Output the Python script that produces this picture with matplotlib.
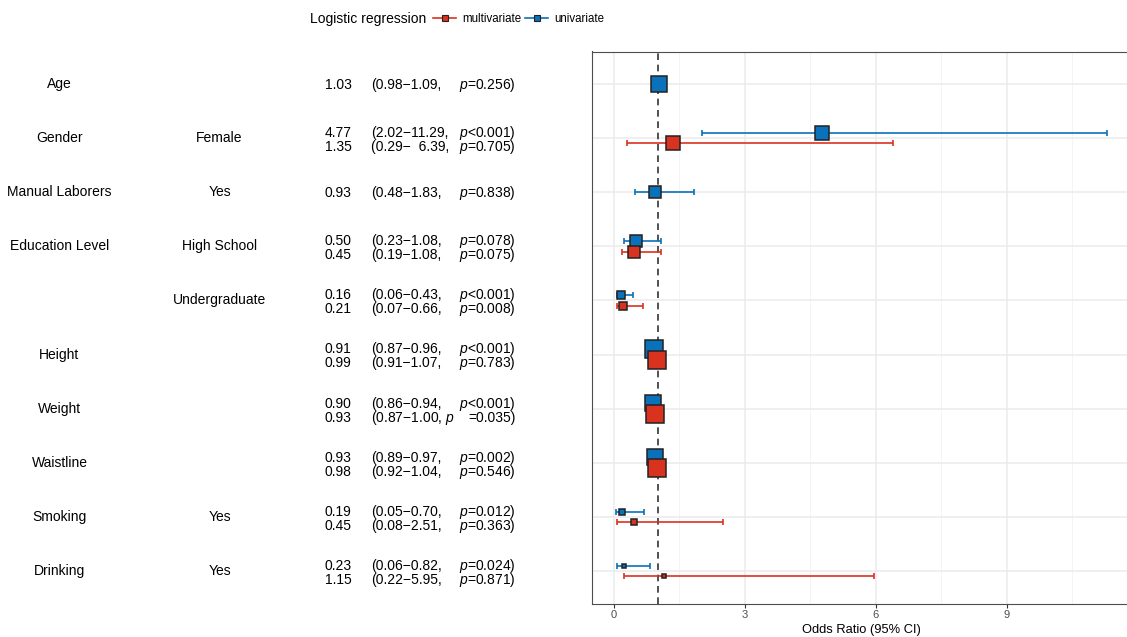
import numpy as np
import matplotlib.pyplot as plt
from matplotlib.lines import Line2D

plt.rcParams["font.family"] = ["Liberation Sans", "DejaVu Sans"]
plt.rcParams["mathtext.fontset"] = "custom"
plt.rcParams["mathtext.rm"] = "Liberation Sans"
plt.rcParams["mathtext.it"] = "Liberation Sans:italic"

# covariates and their levels, top to bottom
variables = ["Age", "Gender", "Manual Laborers", "Education Level", "",
             "Height", "Weight", "Waistline", "Smoking", "Drinking"]
levels = ["", "Female", "Yes", "High School", "Undergraduate",
          "", "", "", "Yes", "Yes"]

nan = np.nan
# univariate logistic regression
uni_or = [1.03, 4.77, 0.93, 0.50, 0.16, 0.91, 0.90, 0.93, 0.19, 0.23]
uni_lo = [0.98, 2.02, 0.48, 0.23, 0.06, 0.87, 0.86, 0.89, 0.05, 0.06]
uni_hi = [1.09, 11.29, 1.83, 1.08, 0.43, 0.96, 0.94, 0.97, 0.70, 0.82]
uni_p = ["0.256", "<0.001", "0.838", "0.078", "<0.001",
         "<0.001", "<0.001", "0.002", "0.012", "0.024"]
uni_box = [15, 13, 10.7, 11, 7, 15.7, 15, 15, 5, 3.7]

# multivariate logistic regression
multi_or = [nan, 1.35, nan, 0.45, 0.21, 0.99, 0.93, 0.98, 0.45, 1.15]
multi_lo = [nan, 0.29, nan, 0.19, 0.07, 0.91, 0.87, 0.92, 0.08, 0.22]
multi_hi = [nan, 6.39, nan, 1.08, 0.66, 1.07, 1.00, 1.04, 2.51, 5.95]
multi_p = [None, "0.705", None, "0.075", "0.008",
           "0.783", "0.035", "0.546", "0.363", "0.871"]
multi_box = [0, 12.7, 0, 10.7, 8, 15.3, 15.3, 15.3, 5, 4]

RED = "#D9321F"
BLUE = "#0A72BA"
EDGE = "#222222"

W, H = 1127, 637
fig = plt.figure(figsize=(W / 100, H / 100), dpi=100)

top_px, bot_px, left_px, right_px = 51.5, 603.5, 591.7, 1131.0
ax = fig.add_axes([left_px / W, 1 - bot_px / H,
                   (right_px - left_px) / W, (bot_px - top_px) / H])
ax_t = fig.add_axes([0, 1 - bot_px / H, left_px / W, (bot_px - top_px) / H])

n = len(variables)
rows = np.arange(1, n + 1)
has_multi = ~np.isnan(multi_or)
dodge = 0.1
y_uni = np.where(has_multi, rows - dodge, rows)
y_multi = rows + dodge

# grid
for v in [0, 3, 6, 9]:
    ax.axvline(v, color="#EBEBEB", lw=1.1, zorder=0)
for v in [1.5, 4.5, 7.5, 10.5]:
    ax.axvline(v, color="#F2F2F2", lw=0.6, zorder=0)
for r in rows:
    ax.axhline(r, color="#EBEBEB", lw=1.1, zorder=0)

ax.axvline(1, color="#333333", lw=1.2, ls=(0, (4.0, 2.8)), zorder=1)

def draw(orv, lo, hi, ys, box, color, mask):
    orv, lo, hi, box = map(np.asarray, (orv, lo, hi, box))
    ax.errorbar(orv[mask], ys[mask],
                xerr=[orv[mask] - lo[mask], hi[mask] - orv[mask]],
                fmt="none", ecolor=color, elinewidth=1.2,
                capsize=2, capthick=1.2, zorder=2)
    for x, y, s in zip(orv[mask], ys[mask], box[mask]):
        ax.plot(x, y, marker="s", ms=s * 0.8, mfc=color, mec=EDGE,
                mew=1.1, ls="none", zorder=3)

draw(uni_or, uni_lo, uni_hi, y_uni, uni_box, BLUE, np.ones(n, bool))
draw(multi_or, multi_lo, multi_hi, y_multi, multi_box, RED, has_multi)

ax.set_xlim(-0.51, 11.85)
ax.set_ylim(n + 0.6, 0.4)
ax.set_xticks([0, 3, 6, 9])
ax.set_yticks([])
ax.tick_params(axis="x", length=2.75, width=0.8, color="#333333",
               labelsize=8, labelcolor="#4D4D4D", pad=2)
for sp in ax.spines.values():
    sp.set_color("#4D4D4D")
    sp.set_linewidth(0.8)
ax.set_xlabel("Odds Ratio (95% CI)", fontsize=9.3, labelpad=3)

# table text on the left
ax_t.set_xlim(0, left_px)
ax_t.set_ylim(n + 0.6, 0.4)
ax_t.axis("off")

fs = 10
for r, var, lev in zip(rows, variables, levels):
    ax_t.text(59.5, r, var, ha="center", va="center", fontsize=fs)
    ax_t.text(219.5, r, lev, ha="center", va="center", fontsize=fs)

def ci_text(lo, hi, width):
    hs = f"{hi:.2f}"
    pad = "  " * (width - len(hs))
    return f"({lo:.2f}\u2212{pad}{hs},"

def p_text(p):
    return (r"$\it{p}$" + ("" if p.startswith("<") else "=") + p + ")")

for i, r in enumerate(rows):
    if has_multi[i]:
        width = max(len(f"{uni_hi[i]:.2f}"), len(f"{multi_hi[i]:.2f}"))
        lines = [(r - 0.095, uni_or[i], uni_lo[i], uni_hi[i], uni_p[i]),
                 (r + 0.165, multi_or[i], multi_lo[i], multi_hi[i], multi_p[i])]
    else:
        width = 4
        lines = [(r + 0.01, uni_or[i], uni_lo[i], uni_hi[i], uni_p[i])]
    for y, o, lo, hi, p in lines:
        ci = ci_text(lo, hi, width)
        pt = p_text(p)
        # the weight row prints its p label split across the two columns
        if variables[i] == "Weight" and y > r:
            ci = ci + r" $\it{p}$"
            pt = "=" + p + ")"
        ax_t.text(338, y, f"{o:.2f}", ha="center", va="center", fontsize=fs)
        ax_t.text(371, y, ci, ha="left", va="center", fontsize=fs)
        ax_t.text(516, y, pt, ha="right", va="center", fontsize=fs)

# legend header
fig.text(310 / W, 1 - 19 / H, "Logistic regression", fontsize=10,
         ha="left", va="center")
handles = [Line2D([], [], color=RED, lw=1.2, marker="s", ms=4.5,
                  mfc=RED, mec=EDGE, mew=0.8),
           Line2D([], [], color=BLUE, lw=1.2, marker="s", ms=4.5,
                  mfc=BLUE, mec=EDGE, mew=0.8)]
fig.legend(handles, ["multivariate", "univariate"], loc="center left",
           bbox_to_anchor=(433 / W, 1 - 19 / H), ncol=2, frameon=False,
           fontsize=8.3, handlelength=2.0, handletextpad=0.55,
           columnspacing=0.3, borderpad=0, borderaxespad=0)

fig.savefig("out.png", dpi=100)
